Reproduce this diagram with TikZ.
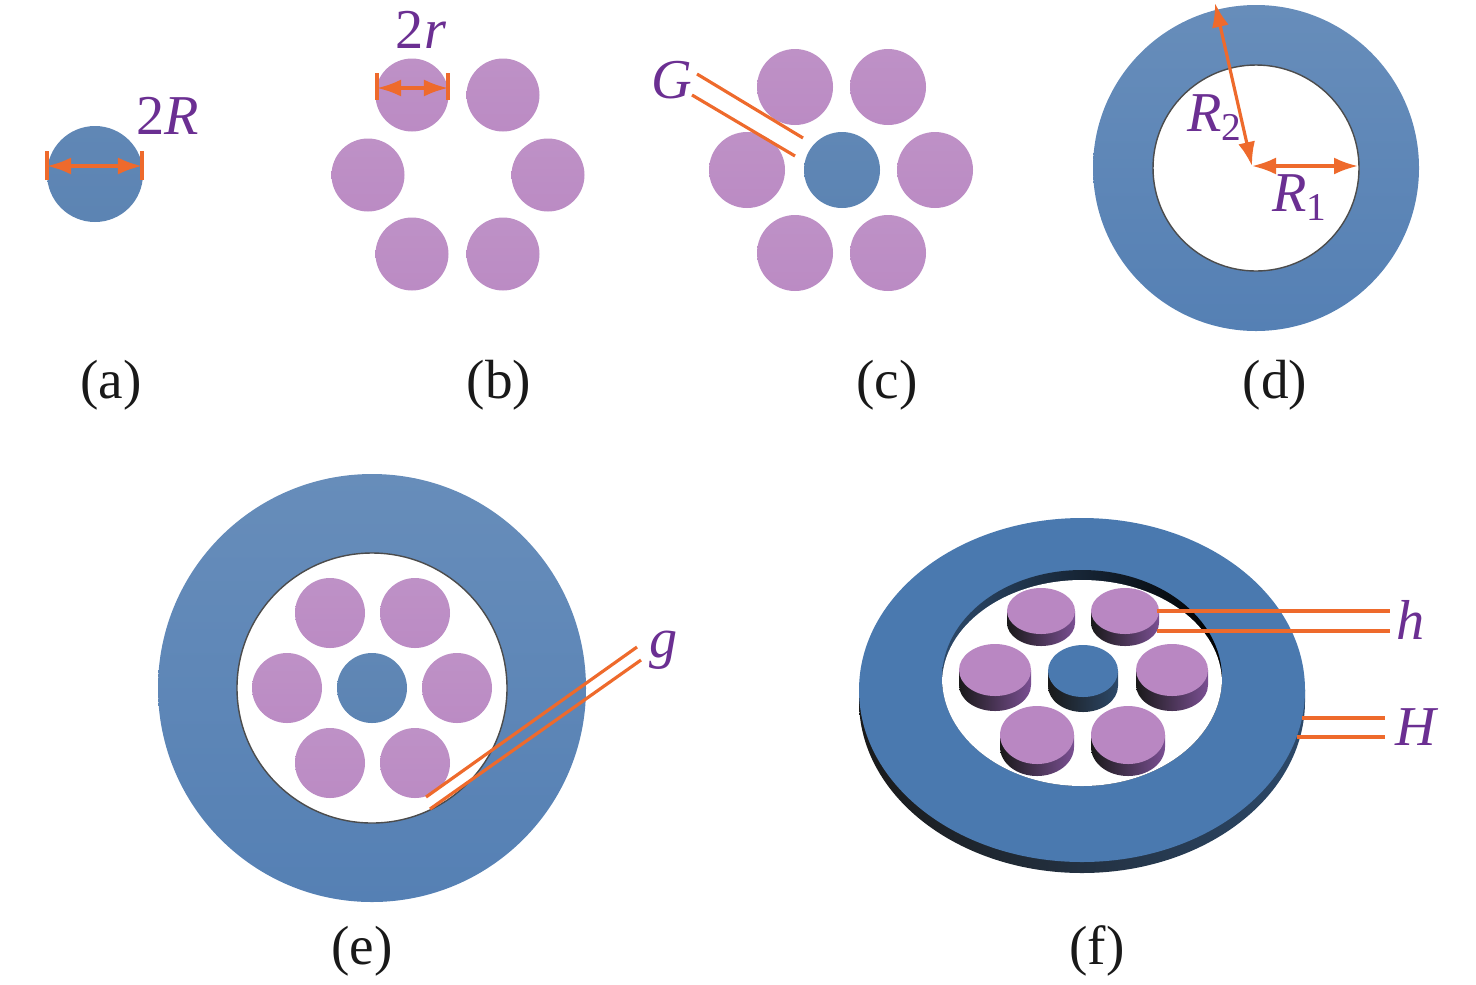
\documentclass[tikz,border=0pt]{standalone}
\usepackage{fontspec}
\setmainfont{Liberation Serif}
\usetikzlibrary{arrows.meta}
\definecolor{ringtop}{HTML}{678DBA}
\definecolor{ringbot}{HTML}{5580B4}
\definecolor{coretop}{HTML}{6087B5}
\definecolor{corebot}{HTML}{5C84B3}
\definecolor{disctop}{HTML}{BE91C6}
\definecolor{discbot}{HTML}{BB8BC4}
\definecolor{flatblue}{HTML}{4A79AF}
\definecolor{flatdisc}{HTML}{B987C2}
\definecolor{padside}{HTML}{7A4F92}
\definecolor{markline}{HTML}{EE6A2C}
\definecolor{marktext}{HTML}{6B2F92}
\tikzset{
    ring/.style={top color=ringtop, bottom color=ringbot},
    core/.style={top color=coretop, bottom color=corebot},
    disc/.style={top color=disctop, bottom color=discbot},
    markl/.style={draw=markline, line width=0.9pt},
    dimarrow/.style={markl, {Latex[length=0.24cm,width=0.17cm]}-{Latex[length=0.24cm,width=0.17cm]}},
    symb/.style={text=marktext, inner sep=0pt, font=\fontsize{16}{19}\selectfont\itshape},
    caption/.style={text=black!90, inner sep=0pt, font=\fontsize{15.7}{18}\selectfont},
}
% one raised pad of the perspective view: cx, cy, rx, ry, depth, side colour, top colour
\newcommand{\padshape}[7]{
    \shade[left color=black!90, right color=#6] (#1-#3,#2) -- (#1-#3,#2+#5) arc[start angle=180, end angle=0, x radius=#3, y radius=#4] -- (#1+#3,#2) -- cycle;
    \fill[#7] (#1,#2) ellipse[x radius=#3, y radius=#4];
}
\begin{document}
\begin{tikzpicture}[x=0.01cm, y=-0.01cm]
    \useasboundingbox (0,0) rectangle (1476,984);

    % (a)
    \shade[core] (95,174) circle[radius=48];
    \draw[dimarrow] (47,166) -- (142,166);
    \draw[markl] (47,151) -- (47,180);
    \draw[markl] (142,151) -- (142,180);
    \node[symb] (lab2R) at (168,116) {\upshape 2\itshape R};
    \node[caption] (capa) at (111,385) {(a)};

    % (b)
    \foreach \x/\y in {412/95, 503/95, 368/175, 548/175, 412/254, 503/254}
        \shade[disc] (\x,\y) circle[radius=36.5];
    \draw[dimarrow] (377,88) -- (448,88);
    \draw[markl] (377,73) -- (377,100);
    \draw[markl] (448,73) -- (448,100);
    \node[symb] (lab2r) at (421,30) {\upshape 2\itshape r};
    \node[caption] (capb) at (499,385) {(b)};

    % (c)
    \foreach \x/\y in {795/87, 888/87, 747/170, 935/170, 795/253, 888/253}
        \shade[disc] (\x,\y) circle[radius=38];
    \shade[core] (842,170) circle[radius=38];
    \draw[markl] (697,74) -- (803,138);
    \draw[markl] (692,95) -- (795,156);
    \node[symb] (labG) at (672,80) {G};
    \node[caption] (capc) at (887,385) {(c)};

    % (d)
    \shade[ring] (1256,168) circle[radius=163];
    \fill[white] (1256,168) circle[radius=103];
    \draw[black!70, line width=0.4pt] (1256,168) circle[radius=103];
    \draw[dimarrow] (1252,166) -- (1358,166);
    \draw[dimarrow] (1252,166) -- (1215,3);
    \node[symb] (labRtwo) at (1215,118) {R\textsubscript{\upshape 2}};
    \node[symb] (labRone) at (1300,198) {R\textsubscript{\upshape 1}};
    \node[caption] (capd) at (1275,385) {(d)};

    % (e)
    \shade[ring] (372,688) circle[radius=214];
    \fill[white] (372,688) circle[radius=135];
    \draw[black!70, line width=0.4pt] (372,688) circle[radius=135];
    \foreach \x/\y in {330/613, 415/613, 287/688, 457/688, 330/763, 415/763}
        \shade[disc] (\x,\y) circle[radius=35];
    \shade[core] (372,688) circle[radius=35];
    \draw[markl] (426,797) -- (637,647);
    \draw[markl] (430,809) -- (641,660);
    \node[symb] (labg) at (664,650) {g};
    \node[caption] (cape) at (362,951) {(e)};

    % (f)
    \padshape{1082}{690}{223}{172}{11}{flatblue!60!black}{flatblue}
    \begin{scope}
        \clip (1082,678) ellipse[x radius=140, y radius=108];
        \shade[left color=flatblue!60!black, right color=black] (942,570) rectangle (1222,786);
        \fill[white] (1082,683) ellipse[x radius=140, y radius=103];
    \end{scope}
    \padshape{1041}{611}{34}{23}{12}{padside}{flatdisc}
    \padshape{1125}{611}{34}{23}{12}{padside}{flatdisc}
    \padshape{995}{670}{36}{26}{15}{padside}{flatdisc}
    \padshape{1083}{671}{35}{26}{15}{flatblue!60!black}{flatblue}
    \padshape{1172}{670}{36}{26}{15}{padside}{flatdisc}
    \padshape{1037}{735}{37}{29}{12}{padside}{flatdisc}
    \padshape{1128}{735}{37}{29}{12}{padside}{flatdisc}
    \draw[markl] (1157,611) -- (1390,611);
    \draw[markl] (1157,631) -- (1390,631);
    \draw[markl] (1302,718) -- (1385,718);
    \draw[markl] (1297,737) -- (1385,737);
    \node[symb] (labh) at (1411,620) {h};
    \node[symb] (labH) at (1416,727) {H};
    \node[caption] (capf) at (1097,951) {(f)};
\end{tikzpicture}
\end{document}
